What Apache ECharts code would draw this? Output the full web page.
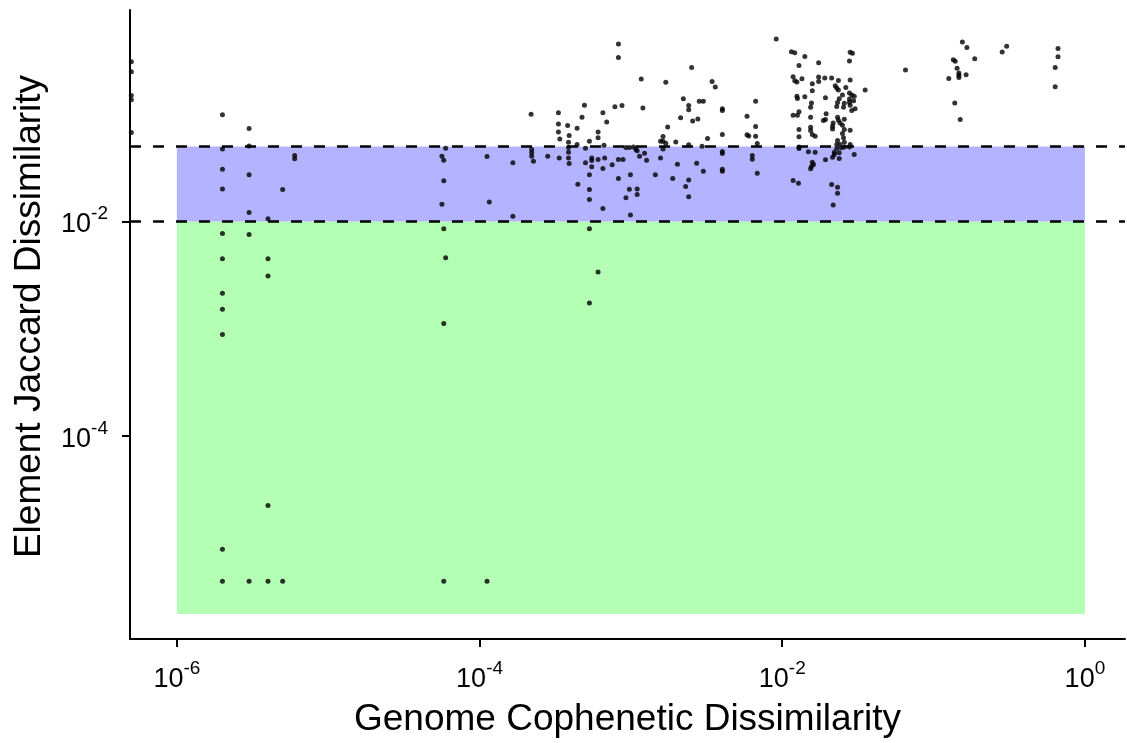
<!DOCTYPE html>
<html>
<head>
<meta charset="utf-8">
<script src="https://cdn.jsdelivr.net/npm/echarts@6/dist/echarts.min.js"></script>
<style>
  html, body { margin: 0; padding: 0; background: #fff; }
  #chart { width: 1127px; height: 743px; }
</style>
</head>
<body>
<div id="chart"></div>
<script>
    // genome cophenetic dissimilarity (x) and element jaccard dissimilarity (y), same order
    const cophenetic = [
        5e-7, 5e-7, 5e-7, 5e-7, 5e-7,
        2.0e-6, 2.0e-6, 2.0e-6, 2.0e-6, 2.0e-6, 2.0e-6, 2.0e-6, 2.0e-6, 2.0e-6, 2.0e-6, 2.0e-6,
        3.0e-6, 3.0e-6, 3.0e-6, 3.0e-6, 3.0e-6, 3.0e-6,
        4.0e-6, 4.0e-6, 4.0e-6, 4.0e-6, 4.0e-6,
        5.0e-6, 5.0e-6, 6.0e-6, 6.0e-6,
        5.97e-5, 5.97e-5, 5.64e-5, 5.64e-5, 5.8e-5, 5.8e-5, 5.8e-5, 5.8e-5, 5.8e-5,
        1.12e-4, 1.12e-4, 1.16e-4, 1.66e-4, 1.66e-4,
        2.19e-4, 2.21e-4, 2.21e-4, 2.21e-4, 2.27e-4, 2.82e-4,
        3.32e-4, 3.32e-4, 3.32e-4, 3.36e-4, 3.39e-4, 3.82e-4,
        3.87e-4, 3.87e-4, 3.87e-4, 3.87e-4, 3.91e-4, 3.91e-4,
        4.41e-4, 4.41e-4, 4.46e-4, 4.75e-4, 4.93e-4, 5.01e-4, 5.01e-4,
        5.32e-4, 5.32e-4, 5.32e-4, 5.32e-4, 5.32e-4, 5.32e-4,
        5.51e-4, 5.51e-4, 5.51e-4, 6.07e-4, 6.07e-4, 6.07e-4, 6.07e-4,
        6.53e-4, 6.53e-4, 6.53e-4, 6.64e-4, 6.71e-4, 6.92e-4, 7.52e-4, 7.84e-4,
        8.27e-4, 8.27e-4, 8.27e-4, 8.27e-4, 8.73e-4, 8.87e-4,
        9.27e-4, 9.27e-4, 9.77e-4, 9.77e-4, 9.93e-4, 9.93e-4,
        1.04e-3, 1.08e-3, 1.10e-3, 1.10e-3, 1.10e-3, 1.14e-3, 1.17e-3, 1.20e-3, 1.23e-3, 1.27e-3,
        1.45e-3, 1.57e-3, 1.57e-3, 1.63e-3, 1.63e-3, 1.63e-3, 1.70e-3, 1.70e-3, 1.75e-3,
        1.89e-3, 1.98e-3, 2.03e-3, 2.13e-3, 2.22e-3, 2.30e-3,
        2.41e-3, 2.41e-3, 2.41e-3, 2.41e-3, 2.41e-3, 2.52e-3, 2.56e-3, 2.72e-3, 2.77e-3, 2.83e-3,
        2.95e-3, 3.01e-3, 3.01e-3, 3.21e-3, 3.44e-3, 3.61e-3,
        4.02e-3, 4.02e-3, 4.02e-3, 4.02e-3, 4.02e-3, 4.02e-3, 4.02e-3,
        5.85e-3, 5.85e-3, 6.01e-3, 6.34e-3, 6.34e-3, 6.67e-3, 6.67e-3, 6.67e-3, 6.84e-3, 6.84e-3,
        9.12e-3,
        1.15e-2, 1.21e-2, 1.41e-2, 1.29e-2, 1.74e-2, 2.81e-2, 2.91e-2, 2.78e-2,
        1.18e-2, 1.21e-2, 1.25e-2, 1.35e-2, 1.58e-2, 1.74e-2, 1.74e-2, 1.91e-2, 2.12e-2, 2.35e-2,
        2.24e-2, 2.29e-2, 2.35e-2, 2.81e-2, 2.63e-2, 3.53e-2, 1.58e-2,
        1.25e-2, 1.26e-2, 1.41e-2, 1.93e-2, 2.50e-2, 2.78e-2, 2.88e-2, 2.99e-2, 2.78e-2, 2.96e-2,
        2.78e-2, 2.81e-2, 2.38e-2, 2.32e-2, 2.29e-2, 2.57e-2, 2.54e-2, 1.56e-2, 1.54e-2, 3.03e-2, 2.88e-2,
        1.18e-2, 1.26e-2, 1.29e-2, 1.54e-2, 1.95e-2, 1.93e-2, 1.87e-2, 2.32e-2, 2.35e-2, 2.41e-2,
        2.57e-2, 2.17e-2, 2.15e-2, 2.15e-2, 2.50e-2, 2.57e-2, 2.81e-2,
        1.29e-2, 1.29e-2, 1.54e-2, 1.54e-2, 1.58e-2, 1.65e-2, 2.50e-2, 2.54e-2,
        2.32e-2, 2.29e-2, 2.41e-2, 2.57e-2, 2.81e-2, 2.78e-2, 1.29e-2, 1.29e-2, 2.29e-2, 2.46e-2, 2.57e-2,
        1.49e-2, 1.65e-2, 2.21e-2, 2.21e-2, 2.38e-2, 2.99e-2, 2.15e-2, 2.38e-2,
        1.58e-2, 1.61e-2, 1.56e-2, 1.54e-2, 1.93e-2,
        1.18e-2, 1.28e-2, 2.12e-2, 2.32e-2, 2.32e-2, 2.17e-2,
        6.52e-2, 0.155, 0.166, 0.135, 0.139, 0.187, 0.143, 0.126, 0.147, 0.147, 0.147, 0.164,
        0.138, 0.150, 0.284, 0.304, 0.664, 0.664, 0.636, 0.636
    ];
    const jaccard = [
        0.308, 0.248, 0.149, 0.136, 0.0673,
        0.0984, 0.0474, 0.0307, 0.0201, 0.00773, 0.0045, 0.00214, 0.00152, 0.000883, 8.83e-6, 4.45e-6,
        0.0733, 0.0506, 0.0272, 0.0121, 0.00757, 4.45e-6,
        0.0106, 0.0045, 0.0031, 2.26e-5, 4.45e-6,
        0.0199, 4.45e-6, 0.0411, 0.0383,
        0.0481, 0.00459, 0.0405, 0.0145, 0.0372, 0.0239, 0.00855, 0.00112, 4.45e-6,
        0.0403, 4.45e-6, 0.0152, 0.0352, 0.0112,
        0.0996, 0.0468, 0.0436, 0.0405, 0.0364, 0.0405,
        0.103, 0.0811, 0.0683, 0.0391, 0.0588, 0.0782,
        0.0547, 0.0488, 0.0441, 0.0391, 0.0631, 0.0347,
        0.0738, 0.052, 0.0222, 0.0933, 0.121, 0.0481, 0.0352,
        0.0558, 0.0272, 0.0199, 0.016, 0.00855, 0.00174,
        0.0391, 0.0369, 0.0323, 0.0601, 0.0377, 0.00338, 0.0683,
        0.0311, 0.103, 0.0132, 0.0513, 0.0391, 0.0846, 0.0337, 0.117,
        0.45, 0.336, 0.0377, 0.0251, 0.12, 0.0377,
        0.0488, 0.0166, 0.0488, 0.02, 0.0272, 0.0115,
        0.0495, 0.0468, 0.0457, 0.0201, 0.0178, 0.0405, 0.212, 0.114, 0.0432, 0.0372,
        0.0272, 0.0391, 0.0558, 0.0618, 0.0558, 0.0474, 0.198, 0.0535, 0.076,
        0.0251, 0.0551, 0.0341, 0.0927, 0.139, 0.0212,
        0.12, 0.11, 0.0517, 0.0244, 0.017, 0.272, 0.0865, 0.0349, 0.0902, 0.132,
        0.0502, 0.132, 0.0294, 0.0592, 0.201, 0.179,
        0.0448, 0.0429, 0.112, 0.108, 0.0645, 0.0307, 0.0294,
        0.0641, 0.0955, 0.0627, 0.0411, 0.038, 0.132, 0.0765, 0.0621, 0.0532, 0.0281,
        0.501,
        0.381, 0.373, 0.345, 0.283, 0.301, 0.376, 0.368, 0.313,
        0.223, 0.205, 0.199, 0.214, 0.192, 0.222, 0.201, 0.217, 0.217, 0.206,
        0.184, 0.175, 0.168, 0.208, 0.177, 0.168, 0.165,
        0.147, 0.140, 0.145, 0.142, 0.151, 0.157, 0.151, 0.147, 0.138, 0.133,
        0.129, 0.121, 0.139, 0.128, 0.118, 0.126, 0.116, 0.127, 0.116, 0.112, 0.108,
        0.0975, 0.0975, 0.105, 0.0933, 0.101, 0.0889, 0.0871, 0.0933, 0.0875, 0.0828,
        0.0895, 0.0828, 0.0771, 0.0728, 0.0787, 0.0718, 0.0707,
        0.0718, 0.0614, 0.0754, 0.0703, 0.0645, 0.0621, 0.0659, 0.0601,
        0.0567, 0.052, 0.052, 0.0547, 0.052, 0.0495, 0.0495, 0.0478, 0.0478, 0.0485, 0.0495,
        0.0445, 0.0441, 0.0441, 0.042, 0.0436, 0.042, 0.0396, 0.0385,
        0.0356, 0.0339, 0.0325, 0.0309, 0.0375,
        0.0241, 0.0227, 0.0221, 0.0208, 0.0183, 0.0142,
        0.258, 0.470, 0.418, 0.321, 0.310, 0.328, 0.267, 0.215, 0.242, 0.230, 0.219, 0.233,
        0.127, 0.0889, 0.379, 0.428, 0.409, 0.343, 0.272, 0.180
    ];

    // shaded bands: [x from, x to, y from, y to]
    const greenBand = [1e-6, 1, 2.2e-6, 0.01];
    const blueBand = [1e-6, 1, 0.01, 0.05];
    const cutoffs = [0.05, 0.01];

    const xTicks = [1e-6, 1e-4, 1e-2, 1];
    const yTicks = [1e-4, 1e-2];

    const FONT = 'Liberation Sans';

    const powerLabel = {
        formatter(v) {
            return '{b|10}{s|' + Math.round(Math.log10(v)) + '}';
        },
        color: '#000',
        fontFamily: FONT,
        rich: {
            b: { fontSize: 27, lineHeight: 34, verticalAlign: 'bottom', fontFamily: FONT, color: '#000' },
            s: { fontSize: 19, lineHeight: 19, verticalAlign: 'top', fontFamily: FONT, color: '#000' }
        }
    };

    const axisLine = { show: true, onZero: false, lineStyle: { color: '#000', width: 2 } };

    const chart = echarts.init(document.getElementById('chart'));
    chart.setOption({
        animation: false,
        grid: { left: 130, right: 2, top: 10, bottom: 103 },
        xAxis: {
            type: 'log',
            logBase: 10,
            min: 4.9e-7,
            max: 1.84,
            name: 'Genome Cophenetic Dissimilarity',
            nameLocation: 'middle',
            nameGap: 62,
            nameTextStyle: { fontSize: 37, color: '#000', fontFamily: FONT },
            axisLine: axisLine,
            axisTick: { show: true, length: 8, customValues: xTicks, lineStyle: { color: '#000', width: 2 } },
            axisLabel: Object.assign({ customValues: xTicks, margin: 20 }, powerLabel),
            splitLine: { show: false },
            minorTick: { show: false }
        },
        yAxis: {
            type: 'log',
            logBase: 10,
            min: 1.29e-6,
            max: 0.933,
            name: 'Element Jaccard Dissimilarity',
            nameLocation: 'middle',
            nameGap: 82,
            nameTextStyle: { fontSize: 37, color: '#000', fontFamily: FONT, padding: [0, 0, 0, 16] },
            axisLine: axisLine,
            axisTick: { show: true, length: 8, customValues: yTicks, lineStyle: { color: '#000', width: 2 } },
            axisLabel: Object.assign({ customValues: yTicks, margin: 22 }, powerLabel),
            splitLine: { show: false },
            minorTick: { show: false }
        },
        series: [{
            type: 'scatter',
            symbol: 'circle',
            symbolSize: 5,
            itemStyle: { color: '#000' },
            z: 5,
            data: cophenetic.map((x, i) => [x, jaccard[i]]),
            markArea: {
                silent: true,
                z: 1,
                data: [
                    [{ xAxis: greenBand[0], yAxis: greenBand[2], itemStyle: { color: '#b3ffb3' } },
                     { xAxis: greenBand[1], yAxis: greenBand[3] }],
                    [{ xAxis: blueBand[0], yAxis: blueBand[2], itemStyle: { color: '#b3b3ff' } },
                     { xAxis: blueBand[1], yAxis: blueBand[3] }]
                ]
            },
            markLine: {
                silent: true,
                symbol: ['none', 'none'],
                label: { show: false },
                lineStyle: { color: '#000', width: 2.5, type: [11, 12] },
                data: cutoffs.map(v => ({ yAxis: v }))
            }
        }]
    });
</script>
</body>
</html>
